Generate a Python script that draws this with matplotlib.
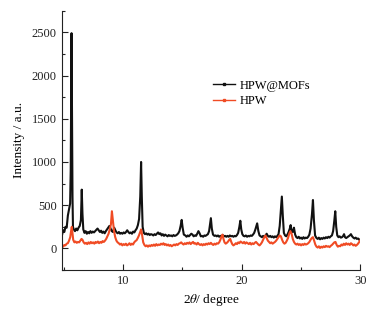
import matplotlib
matplotlib.use("Agg")
import matplotlib.pyplot as plt
from matplotlib.lines import Line2D
from matplotlib.ticker import MultipleLocator

plt.rcParams["font.family"] = ["Liberation Serif", "DejaVu Serif"]
plt.rcParams["mathtext.fontset"] = "stix"

# HPW@MOFs (black)
mof_x = [4.85, 4.95, 5.05, 5.15, 5.25, 5.35, 5.42, 5.48, 5.54, 5.59, 5.62, 5.66, 5.70, 5.74, 5.78,
         5.85, 5.95, 6.05, 6.15, 6.25, 6.35, 6.45, 6.52, 6.58, 6.65, 6.75, 6.85, 6.95, 7.05, 7.15,
         7.25, 7.35, 7.45, 7.55, 7.65, 7.75, 7.85, 7.95, 8.05, 8.15, 8.25, 8.35, 8.45, 8.55, 8.65,
         8.75, 8.85, 8.95, 9.05, 9.15, 9.25, 9.35, 9.45, 9.55, 9.65, 9.75, 9.85, 9.95, 10.05, 10.15,
         10.25, 10.35, 10.45, 10.55, 10.65, 10.75, 10.85, 10.95, 11.05, 11.15, 11.25, 11.35, 11.45,
         11.52, 11.58, 11.65, 11.75, 11.85, 11.95, 12.05, 12.15, 12.25, 12.35, 12.45, 12.55, 12.65,
         12.75, 12.85, 12.95, 13.05, 13.15, 13.25, 13.35, 13.45, 13.55, 13.65, 13.75, 13.85, 13.95,
         14.05, 14.15, 14.25, 14.35, 14.45, 14.55, 14.65, 14.75, 14.85, 14.94, 15.02, 15.12, 15.25,
         15.35, 15.45, 15.55, 15.65, 15.75, 15.85, 15.95, 16.05, 16.15, 16.25, 16.35, 16.45, 16.55,
         16.65, 16.75, 16.85, 16.95, 17.05, 17.15, 17.25, 17.33, 17.40, 17.48, 17.58, 17.7, 17.8,
         17.9, 18.0, 18.1, 18.2, 18.3, 18.4, 18.5, 18.6, 18.7, 18.8, 18.9, 19.0, 19.1, 19.2, 19.3,
         19.4, 19.5, 19.6, 19.7, 19.8, 19.88, 19.96, 20.05, 20.15, 20.25, 20.35, 20.45, 20.55, 20.65,
         20.75, 20.85, 20.95, 21.05, 21.15, 21.3, 21.4, 21.5, 21.6, 21.7, 21.8, 21.9, 22.0, 22.1,
         22.2, 22.3, 22.4, 22.5, 22.6, 22.7, 22.8, 22.9, 23.0, 23.1, 23.2, 23.3, 23.38, 23.46, 23.55,
         23.65, 23.75, 23.85, 23.95, 24.05, 24.12, 24.2, 24.3, 24.4, 24.5, 24.6, 24.7, 24.8, 24.9,
         25.0, 25.1, 25.2, 25.3, 25.4, 25.5, 25.6, 25.7, 25.8, 25.92, 26.0, 26.08, 26.18, 26.3, 26.4,
         26.5, 26.6, 26.7, 26.8, 26.9, 27.0, 27.1, 27.2, 27.3, 27.4, 27.5, 27.6, 27.7, 27.8, 27.88,
         27.96, 28.05, 28.15, 28.25, 28.35, 28.45, 28.55, 28.62, 28.7, 28.8, 28.9, 29.0, 29.1, 29.2,
         29.3, 29.4, 29.5, 29.6, 29.7, 29.8, 29.9, 30.0]
mof_y = [150, 210, 190, 250, 240, 380, 430, 470, 520, 900, 1650, 2490, 1500, 600, 250,
         220, 200, 230, 210, 240, 260, 330, 680, 400, 220, 180, 200, 170, 190, 175,
         200, 180, 195, 185, 200, 215, 230, 210, 190, 205, 180, 195, 175, 200, 220,
         240, 260, 230, 200, 190, 240, 210, 185, 175, 190, 170, 180, 170, 185, 175,
         190, 210, 190, 175, 185, 170, 195, 185, 210, 230, 270, 340, 600,
         1000, 600, 250, 180, 165, 175, 160, 170, 155, 165, 160, 150, 165,
         155, 170, 185, 165, 175, 150, 165, 145, 160, 150, 140, 155, 145,
         150, 140, 155, 145, 150, 160, 175, 200, 260, 330, 240, 160, 150,
         135, 150, 140, 155, 170, 160, 140, 150, 145, 170, 200, 175, 140,
         145, 135, 150, 145, 155, 165, 200, 280, 350, 230, 160, 145, 150,
         140, 150, 135, 145, 140, 155, 140, 145, 135, 145, 135, 150, 140, 145, 135,
         145, 140, 155, 180, 250, 320, 220, 165, 145, 140, 150, 135, 145, 140,
         150, 145, 160, 180, 220, 290, 200, 150, 140, 130, 145, 130, 150, 170,
         145, 135, 145, 130, 140, 125, 140, 130, 145, 165, 260, 450, 600, 380, 180,
         150, 140, 160, 190, 230, 270, 200, 190, 240, 160, 130, 120, 135, 115,
         125, 110, 130, 115, 125, 120, 135, 160, 230, 400, 560, 330, 150, 120, 110,
         125, 105, 120, 110, 125, 115, 130, 120, 135, 125, 140, 150, 200, 320, 430,
         250, 150, 130, 140, 125, 130, 145, 165, 130, 120, 130, 140, 150, 165,
         140, 125, 115, 125, 110, 115, 100, 105]

# HPW (red)
hpw_x = [4.85, 4.95, 5.05, 5.15, 5.25, 5.35, 5.45, 5.55, 5.62, 5.68, 5.74, 5.8, 5.9, 6.0, 6.1,
         6.2, 6.3, 6.4, 6.5, 6.58, 6.68, 6.78, 6.88, 6.98, 7.08, 7.18, 7.28, 7.38, 7.48, 7.58,
         7.68, 7.78, 7.88, 7.98, 8.08, 8.18, 8.28, 8.38, 8.48, 8.58, 8.68, 8.78, 8.88, 8.98, 9.06,
         9.14, 9.24, 9.34, 9.44, 9.54, 9.64, 9.74, 9.84, 9.94, 10.04, 10.14, 10.24, 10.34, 10.44,
         10.54, 10.64, 10.74, 10.84, 10.94, 11.04, 11.14, 11.24, 11.34, 11.44, 11.52, 11.6, 11.7,
         11.8, 11.9, 12.0, 12.1, 12.2, 12.3, 12.4, 12.5, 12.6, 12.7, 12.8, 12.9, 13.0, 13.1, 13.2,
         13.3, 13.4, 13.5, 13.6, 13.7, 13.8, 13.9, 14.0, 14.1, 14.2, 14.3, 14.4, 14.5, 14.6, 14.7,
         14.8, 14.9, 15.0, 15.1, 15.2, 15.3, 15.4, 15.5, 15.6, 15.7, 15.8, 15.9, 16.0, 16.1, 16.2,
         16.3, 16.4, 16.5, 16.6, 16.7, 16.8, 16.9, 17.0, 17.1, 17.2, 17.3, 17.4, 17.5, 17.6, 17.7,
         17.8, 17.9, 18.0, 18.1, 18.2, 18.3, 18.38, 18.46, 18.55, 18.65, 18.75, 18.85, 18.95, 19.03,
         19.12, 19.2, 19.3, 19.4, 19.5, 19.6, 19.7, 19.8, 19.9, 20.0, 20.1, 20.2, 20.3, 20.4, 20.5,
         20.6, 20.7, 20.8, 20.9, 21.0, 21.1, 21.2, 21.3, 21.4, 21.5, 21.6, 21.7, 21.8, 21.9, 22.0,
         22.1, 22.2, 22.3, 22.4, 22.5, 22.6, 22.7, 22.8, 22.9, 23.0, 23.1, 23.2, 23.3, 23.4, 23.5,
         23.6, 23.7, 23.8, 23.9, 24.0, 24.1, 24.2, 24.3, 24.4, 24.5, 24.6, 24.7, 24.8, 24.9, 25.0,
         25.1, 25.2, 25.3, 25.4, 25.5, 25.6, 25.7, 25.8, 25.9, 26.0, 26.1, 26.2, 26.3, 26.4, 26.5,
         26.6, 26.7, 26.8, 26.9, 27.0, 27.1, 27.2, 27.3, 27.4, 27.5, 27.6, 27.7, 27.8, 27.9, 28.0,
         28.1, 28.2, 28.3, 28.4, 28.5, 28.6, 28.7, 28.8, 28.9, 29.0, 29.1, 29.2, 29.3, 29.4, 29.5,
         29.6, 29.7, 29.8, 29.9, 30.0]
hpw_y = [30, 20, 40, 35, 55, 60, 90, 130, 200, 250, 180, 100, 70, 80, 65,
         75, 70, 90, 110, 100, 70, 55, 65, 50, 70, 55, 75, 60, 70, 55,
         75, 65, 80, 60, 75, 65, 85, 75, 90, 110, 140, 170, 220, 280, 430,
         330, 200, 130, 90, 70, 60, 45, 55, 35, 50, 40, 55, 35, 45,
         60, 40, 55, 45, 70, 85, 95, 120, 150, 190, 220, 160, 70,
         40, 25, 35, 20, 35, 25, 40, 30, 45, 30, 50, 35, 45, 40, 55,
         45, 60, 40, 50, 35, 45, 30, 40, 25, 35, 45, 35, 50, 40, 55,
         60, 70, 55, 45, 60, 50, 65, 55, 70, 50, 65, 75, 55, 60, 45,
         65, 50, 40, 50, 35, 50, 40, 55, 45, 60, 50, 65, 50, 40, 55,
         45, 60, 55, 70, 100, 140, 160, 110, 70, 55, 65, 80, 100, 110,
         75, 50, 35, 45, 60, 50, 70, 60, 80, 70, 60, 75, 55, 70, 60,
         50, 65, 45, 60, 50, 65, 75, 60, 45, 35, 50, 70, 100, 130, 150,
         120, 90, 75, 60, 70, 55, 65, 75, 90, 110, 130, 150, 140, 100, 70,
         55, 65, 90, 120, 170, 200, 170, 110, 75, 55, 45, 55, 40, 50, 35,
         50, 40, 55, 45, 50, 60, 75, 100, 120, 130, 90, 45, 20, 10, 25,
         5, 20, 10, 25, 15, 30, 20, 25, 15, 30, 40, 55, 70, 75, 40,
         20, 30, 25, 45, 35, 55, 40, 60, 45, 55, 40, 60, 50, 35, 45,
         30, 40, 55, 75, 95]

BLACK = "#111111"
RED = "#f04b24"

fig = plt.figure(figsize=(3.82, 3.14), dpi=100)
ax = fig.add_axes([0.1615, 0.140, 0.782, 0.826])

ax.plot(mof_x, mof_y, color=BLACK, lw=1.5)
ax.plot(hpw_x, hpw_y, color=RED, lw=1.5)

ax.set_xlim(4.83, 30)
ax.set_ylim(-250, 2750)
ax.xaxis.set_major_locator(MultipleLocator(10))
ax.xaxis.set_minor_locator(MultipleLocator(5))
ax.yaxis.set_major_locator(MultipleLocator(500))
ax.yaxis.set_minor_locator(MultipleLocator(250))
ax.tick_params(which="both", direction="in", labelsize=9, colors="#222222", width=0.8)
ax.tick_params(which="major", length=4)
ax.tick_params(which="minor", length=2.5)
for s in ["top", "right"]:
    ax.spines[s].set_visible(False)
for s in ["left", "bottom"]:
    ax.spines[s].set_linewidth(0.8)
    ax.spines[s].set_color("#222222")

ax.set_xlabel(r"2$\theta$/ degree", fontsize=9.5, labelpad=4)
ax.set_ylabel("Intensity / a.u.", fontsize=9.5, labelpad=5)

handles = [Line2D([], [], color=BLACK, lw=1.0, marker="s", markersize=2),
           Line2D([], [], color=RED, lw=1.0, marker="s", markersize=2)]
fig.legend(handles, ["HPW@MOFs", "HPW"], loc="center left",
           bbox_to_anchor=(0.557, 0.702), frameon=False, fontsize=9,
           handlelength=1.75, handletextpad=0.4, labelspacing=0.3,
           borderpad=0, borderaxespad=0)

fig.savefig("out.png", dpi=100)
